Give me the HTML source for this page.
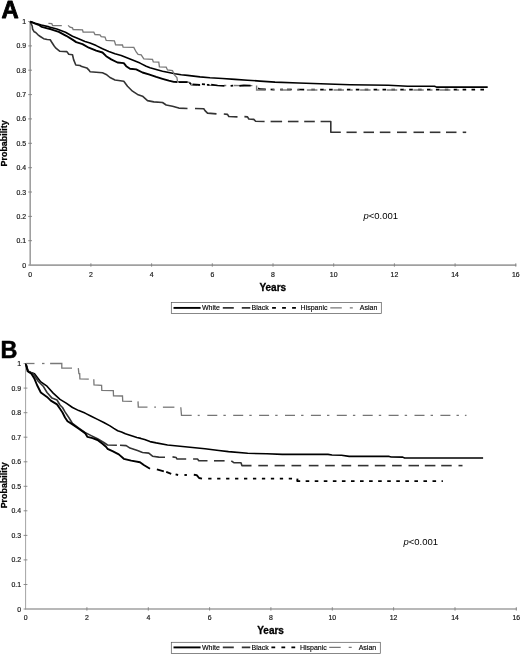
<!DOCTYPE html>
<html lang="en"><head><meta charset="utf-8"><title>Survival probability by race</title>
<style>html,body{margin:0;padding:0;background:#fff;}svg{display:block;}text{font-family:'Liberation Sans', sans-serif;fill:#000;}.tk{font-size:6.9px;fill:#111;stroke:#222;stroke-width:0.18;}.ax{stroke:#a0a0a0;stroke-width:1.6;fill:none;}.lb{font-weight:bold;font-size:10px;stroke:#000;stroke-width:0.3;}.pb{font-weight:bold;font-size:8.3px;stroke:#000;stroke-width:0.25;}.big{font-weight:bold;font-size:24px;stroke:#000;stroke-width:0.9;stroke-linejoin:round;}.pv{font-size:9.5px;}.lg{font-size:7px;stroke:#111;stroke-width:0.15;}.w{stroke:#000;stroke-width:1.6;fill:none;stroke-linejoin:round;}.h{stroke:#000;stroke-width:1.9;fill:none;stroke-linejoin:round;}.b{stroke:#333;stroke-width:1.6;fill:none;stroke-linejoin:round;}.a{stroke:#787878;stroke-width:1.3;fill:none;}</style></head><body>
<svg width="520" height="655" viewBox="0 0 520 655">
<rect width="520" height="655" fill="#fff"/>
<text class="big" style="font-size:23.8px;stroke-width:0.8" x="1.4" y="17.5">A</text>
<path class="ax" style="" d="M30.2,21.0V265.1"/>
<path class="ax" d="M29.6,265.1H516.3"/>
<path class="ax" style="stroke-width:0.9;stroke:#808080" d="M28.2,240.7h3.8M28.2,216.4h3.8M28.2,192.0h3.8M28.2,167.7h3.8M28.2,143.3h3.8M28.2,118.9h3.8M28.2,94.6h3.8M28.2,70.2h3.8M28.2,45.9h3.8M28.2,21.5h3.8M28.2,265.1h2M90.9,263.3v3.4M151.6,263.3v3.4M212.3,263.3v3.4M273.0,263.3v3.4M333.7,263.3v3.4M394.4,263.3v3.4M455.1,263.3v3.4M515.8,263.3v3.4"/>
<text class="tk" text-anchor="end" x="26.0" y="267.6">0</text>
<text class="tk" text-anchor="end" x="26.0" y="243.2">0.1</text>
<text class="tk" text-anchor="end" x="26.0" y="218.9">0.2</text>
<text class="tk" text-anchor="end" x="26.0" y="194.5">0.3</text>
<text class="tk" text-anchor="end" x="26.0" y="170.2">0.4</text>
<text class="tk" text-anchor="end" x="26.0" y="145.8">0.5</text>
<text class="tk" text-anchor="end" x="26.0" y="121.4">0.6</text>
<text class="tk" text-anchor="end" x="26.0" y="97.1">0.7</text>
<text class="tk" text-anchor="end" x="26.0" y="72.7">0.8</text>
<text class="tk" text-anchor="end" x="26.0" y="48.4">0.9</text>
<text class="tk" text-anchor="end" x="26.0" y="24.0">1</text>
<text class="tk" text-anchor="middle" x="30.2" y="277.2">0</text>
<text class="tk" text-anchor="middle" x="90.9" y="277.2">2</text>
<text class="tk" text-anchor="middle" x="151.6" y="277.2">4</text>
<text class="tk" text-anchor="middle" x="212.3" y="277.2">6</text>
<text class="tk" text-anchor="middle" x="273.0" y="277.2">8</text>
<text class="tk" text-anchor="middle" x="333.7" y="277.2">10</text>
<text class="tk" text-anchor="middle" x="394.4" y="277.2">12</text>
<text class="tk" text-anchor="middle" x="455.1" y="277.2">14</text>
<text class="tk" text-anchor="middle" x="515.8" y="277.2">16</text>
<text class="pb" text-anchor="middle" transform="translate(7.3,143.4) rotate(-90) scale(1.075,1)">Probability</text>
<polyline class="w" points="30.2,21.6 35.2,23.3 41.4,25.0 49.1,26.9 56.8,29.0 65.5,32.3 72.5,36.2 78.0,38.6 85.0,41.5 90.0,43.1 96.2,45.6 102.5,48.8 108.8,51.5 115.0,53.8 121.2,55.6 127.5,58.1 133.8,60.6 140.0,63.1 146.2,66.2 150.0,67.7 156.2,69.5 162.5,71.2 168.8,72.5 175.0,73.8 181.2,74.8 187.5,75.4 200.0,76.9 210.0,77.8 222.5,78.5 235.0,79.4 247.5,80.2 260.0,81.1 275.0,82.1 298.5,83.0 350.0,84.7 388.5,85.3 407.7,86.2 434.6,86.2 436.5,87.1 487.7,87.1"/>
<polyline class="b" points="30.2,21.8 32.2,26.0 32.6,29.1 34.2,31.8 35.7,32.5 38.0,34.8 40.3,36.5 43.6,38.7 47.2,39.5 50.2,39.8 51.9,42.5 54.2,46.0 55.6,47.9 59.9,51.3 66.9,51.6 68.8,54.3 72.5,54.8 73.6,59.6 75.8,65.0 80.0,65.5 81.8,66.6 86.8,67.9 89.2,70.4 90.0,71.7 96.2,72.2 102.5,72.8 106.2,74.4 110.0,77.5 115.0,80.0 123.8,81.2 127.5,86.2 132.5,91.2 137.5,94.4 142.5,96.2 147.5,100.6 153.8,101.9 162.5,102.5 166.2,105.0 172.5,106.2 178.8,108.1 187.5,108.5"/>
<polyline class="b" points="195.0,108.5 203.8,108.8 205.0,110.6 207.5,113.1 216.5,113.9"/>
<polyline class="b" points="223.8,114.0 227.5,114.4 228.8,116.5 237.5,116.9"/>
<polyline class="b" points="244.4,116.6 247.5,116.9 248.8,119.0 253.8,119.4 255.6,121.3 264.6,121.5"/>
<polyline class="b" points="270.6,121.5 282.1,121.5"/>
<polyline class="b" points="287.9,121.5 298.5,121.5"/>
<polyline class="b" points="304.2,121.5 314.8,121.5"/>
<polyline class="b" points="320.6,121.5 330.8,121.5 330.8,132.3 340.8,132.3"/>
<polyline class="b" points="346.5,132.3 356.7,132.3"/>
<polyline class="b" points="363.5,132.3 374.0,132.3"/>
<polyline class="b" points="379.8,132.3 390.4,132.3"/>
<polyline class="b" points="397.0,132.3 406.7,132.3"/>
<polyline class="b" points="413.5,132.3 424.0,132.3"/>
<polyline class="b" points="429.8,132.3 440.4,132.3"/>
<polyline class="b" points="446.0,132.3 456.5,132.3"/>
<polyline class="b" points="462.7,132.3 466.2,132.3"/>
<polyline class="h" points="30.2,21.6 35.2,23.6 38.5,24.8 41.8,26.9 47.2,28.4 51.1,29.3 58.8,31.8 66.2,35.8 72.5,39.6 76.2,42.1 82.5,44.1 88.8,47.7 90.0,48.1 96.2,50.6 102.5,52.5 106.2,56.2 111.2,59.4 117.5,62.5 123.8,63.1 126.2,66.2 130.0,68.8 136.2,69.4 142.5,72.5 148.8,74.4 156.2,76.9 162.5,78.8 168.8,80.6 173.8,81.9 177.5,82.0"/>
<polyline class="a" points="48.4,23.3 51.8,23.7 52.6,25.6 61.8,25.6"/>
<polyline class="a" points="68.1,25.4 70.0,27.2 72.5,27.9 73.1,29.5 82.5,29.8 83.1,32.0 93.8,32.2 95.0,34.5 100.0,34.8 101.2,36.6 105.0,37.0 106.2,40.4 114.4,40.8 115.6,44.8 122.5,45.0 123.1,47.1 133.8,47.4 136.2,52.0 138.1,54.5 141.2,54.9 143.8,58.9 152.5,59.3 153.3,61.9 158.8,62.2 159.4,66.9 166.2,67.2 167.5,70.0 172.5,70.6 174.4,75.0 176.9,77.5 177.5,81.4 187.5,82.0 190.0,82.6 191.2,85.0 197.5,85.4"/>
<path class="a" stroke-dasharray="10 6.3 2.4 7.4" stroke-dashoffset="16" d="M197.5,85.4L256.3,85.6"/>
<polyline class="h" style="stroke-width:1.7" points="178.5,82.1 187.5,82.2"/>
<polyline class="h" style="stroke-width:1.7" points="189.4,83.1 191.2,84.0"/>
<polyline class="h" style="stroke-width:1.7" points="192.5,84.4 200.0,84.8"/>
<polyline class="h" style="stroke-width:1.7" points="201.9,84.2 205.0,84.4"/>
<polyline class="h" style="stroke-width:1.7" points="206.9,84.8 209.4,84.8"/>
<polyline class="h" style="stroke-width:1.7" points="211.2,84.6 217.5,85.5 224.4,85.9"/>
<polyline class="h" style="stroke-width:1.7" points="230.6,85.9 233.1,85.6"/>
<polyline class="h" style="stroke-width:1.7" points="239.4,85.9 243.8,85.4 250.6,85.6"/>
<polyline class="h" style="stroke-width:1.7" points="258.1,88.3 260.0,89.2 265.8,89.4"/>
<polyline class="h" style="stroke-width:1.7" points="270.6,89.5 274.4,89.5"/>
<polyline class="h" style="stroke-width:1.7" points="280.2,89.5 283.0,89.5"/>
<polyline class="h" style="stroke-width:1.7" points="287.0,89.5 291.7,89.5"/>
<polyline class="h" style="stroke-width:1.7" points="297.5,89.5 304.2,89.6"/>
<polyline class="h" style="stroke-width:1.7" points="311.3,89.6 314.9,89.6"/>
<path class="h" style="stroke-width:1.7" stroke-dasharray="3.6 5.3" d="M320.2,89.6H484.4"/>
<path class="a" style="stroke-width:1.4;stroke:#7d7d7d" d="M256.6,85.6V90H265.6M272.4,90h2.2"/>
<path class="a" style="stroke-width:1.4;stroke:#7d7d7d" stroke-dasharray="10.5 6.3 2.4 7.4" d="M280.3,90H466"/>
<text class="pv" x="363.4" y="218.9"><tspan font-style="italic">p</tspan>&lt;0.001</text>
<text class="lb" text-anchor="middle" x="272.8" y="290.5">Years</text>
<rect x="171.3" y="302.5" width="210.0" height="10.9" fill="#fff" stroke="#555" stroke-width="0.7"/>
<path class="w" style="stroke-width:1.9" d="M173.5,307.9H200.6"/>
<text class="lg" x="202.0" y="310.4">White</text>
<path class="b" d="M222.8,307.9h11M241.8,307.9h8.5"/>
<text class="lg" x="251.6" y="310.4">Black</text>
<path class="h" d="M272.1,307.9h3.8M282.1,307.9h3.8M292.1,307.9h3.8"/>
<text class="lg" x="300.6" y="310.4">Hispanic</text>
<path class="a" d="M330.3,307.9h11.5M349.8,307.9h3"/>
<text class="lg" x="359.8" y="310.4">Asian</text>
<text class="big" style="font-size:23.4px;stroke-width:0.5" x="0.5" y="358.4">B</text>
<path class="ax" style="stroke-width:0.8;stroke:#8c8c8c" d="M25.6,363.1V609.0"/>
<path class="ax" d="M25.0,609.0H516.8"/>
<path class="ax" style="stroke-width:0.9;stroke:#808080" d="M23.6,584.5h3.8M23.6,559.9h3.8M23.6,535.4h3.8M23.6,510.8h3.8M23.6,486.3h3.8M23.6,461.8h3.8M23.6,437.2h3.8M23.6,412.7h3.8M23.6,388.1h3.8M23.6,363.6h3.8M23.6,609.0h2M86.9,607.2v3.4M148.3,607.2v3.4M209.6,607.2v3.4M270.9,607.2v3.4M332.3,607.2v3.4M393.6,607.2v3.4M455.0,607.2v3.4M516.3,607.2v3.4"/>
<text class="tk" text-anchor="end" x="21.0" y="611.5">0</text>
<text class="tk" text-anchor="end" x="21.0" y="587.0">0.1</text>
<text class="tk" text-anchor="end" x="21.0" y="562.4">0.2</text>
<text class="tk" text-anchor="end" x="21.0" y="537.9">0.3</text>
<text class="tk" text-anchor="end" x="21.0" y="513.3">0.4</text>
<text class="tk" text-anchor="end" x="21.0" y="488.8">0.5</text>
<text class="tk" text-anchor="end" x="21.0" y="464.3">0.6</text>
<text class="tk" text-anchor="end" x="21.0" y="439.7">0.7</text>
<text class="tk" text-anchor="end" x="21.0" y="415.2">0.8</text>
<text class="tk" text-anchor="end" x="21.0" y="390.6">0.9</text>
<text class="tk" text-anchor="end" x="21.0" y="366.1">1</text>
<text class="tk" text-anchor="middle" x="25.6" y="620.1">0</text>
<text class="tk" text-anchor="middle" x="86.9" y="620.1">2</text>
<text class="tk" text-anchor="middle" x="148.3" y="620.1">4</text>
<text class="tk" text-anchor="middle" x="209.6" y="620.1">6</text>
<text class="tk" text-anchor="middle" x="270.9" y="620.1">8</text>
<text class="tk" text-anchor="middle" x="332.3" y="620.1">10</text>
<text class="tk" text-anchor="middle" x="393.6" y="620.1">12</text>
<text class="tk" text-anchor="middle" x="455.0" y="620.1">14</text>
<text class="tk" text-anchor="middle" x="516.3" y="620.1">16</text>
<text class="pb" text-anchor="middle" transform="translate(7.3,485.3) rotate(-90) scale(1.075,1)">Probability</text>
<polyline class="w" points="25.8,363.6 27.0,368.0 28.2,371.2 31.0,372.5 34.5,373.8 40.8,381.9 47.0,386.2 53.2,393.1 60.0,399.4 66.2,403.1 72.5,407.5 78.8,410.6 85.0,413.1 91.2,416.2 97.5,419.4 103.8,422.5 110.0,425.9 113.8,428.4 117.7,430.7 121.5,431.9 125.4,433.7 129.2,435.0 133.1,436.3 136.9,437.5 140.8,438.4 144.6,439.6 150.0,441.6 156.2,442.9 167.5,445.0 180.0,446.2 192.5,447.5 205.0,448.8 218.8,450.5 228.5,451.6 247.7,453.3 266.9,453.8 282.3,454.4 328.0,454.4 332.0,455.0 341.5,455.2 349.2,456.4 389.2,456.4 391.2,457.0 402.7,457.1 404.6,458.0 483.1,458.0"/>
<polyline class="b" points="25.8,363.6 28.2,371.2 33.2,373.8 38.2,381.2 43.2,386.2 47.0,392.5 52.0,398.1 57.0,400.0 60.0,405.0 62.5,407.5 65.0,411.9 68.8,417.5 72.5,423.5 78.8,428.1 85.0,432.5 91.2,435.6 97.5,438.8 103.8,442.5 107.5,445.0 116.9,445.2"/>
<polyline class="b" points="120.0,445.3 126.2,445.6 130.0,448.1 137.5,450.6 142.5,452.5 148.8,453.1 152.5,456.2 158.8,457.1 165.0,457.2"/>
<polyline class="b" points="172.5,456.9 176.2,457.5 176.9,459.0 186.2,459.0"/>
<polyline class="b" points="193.1,459.0 197.5,459.0 198.8,460.7 207.5,460.7"/>
<polyline class="b" points="214.0,460.8 224.6,460.8"/>
<polyline class="b" points="231.3,460.8 233.8,462.7 241.0,462.7 241.9,465.6 251.5,465.6"/>
<polyline class="b" points="258.3,465.6 267.9,465.6"/>
<polyline class="b" points="274.6,465.6 284.8,465.6"/>
<polyline class="b" points="291.5,465.6 301.2,465.6"/>
<polyline class="b" points="308.8,465.6 318.5,465.6"/>
<polyline class="b" points="325.2,465.6 334.8,465.6"/>
<polyline class="b" points="341.5,465.6 351.2,465.6"/>
<polyline class="b" points="357.9,465.6 368.5,465.6"/>
<polyline class="b" points="374.8,465.6 385.4,465.6"/>
<polyline class="b" points="392.1,465.6 401.7,465.6"/>
<polyline class="b" points="408.5,465.6 419.0,465.6"/>
<polyline class="b" points="424.8,465.6 435.4,465.6"/>
<polyline class="b" points="441.2,465.6 451.7,465.6"/>
<polyline class="b" points="458.5,465.6 462.5,465.6"/>
<polyline class="h" points="25.8,363.6 27.6,371.2 31.4,373.8 34.5,378.8 37.0,385.0 40.8,392.5 47.0,396.9 50.8,400.6 57.0,404.4 60.0,408.8 62.5,412.5 65.0,417.5 67.5,421.2 72.5,424.4 78.8,428.8 85.0,433.1 87.5,436.9 92.5,438.1 97.5,440.0 102.5,443.8 106.2,447.0 107.5,448.8 112.5,451.2 118.8,454.4 123.8,458.8 131.2,460.6 140.0,462.2 143.8,465.0 150.0,468.8"/>
<polyline class="h" points="156.9,469.3 163.8,471.3"/>
<polyline class="h" points="166.2,471.9 171.2,473.8"/>
<polyline class="h" points="175.6,474.4 178.1,475.0"/>
<polyline class="h" points="184.4,475.0 186.9,475.0"/>
<polyline class="h" points="193.8,474.7 196.7,475.1 199.1,478.0 202.0,478.6"/>
<path class="h" stroke-dasharray="3.3 5.65" d="M208.2,478.6H296"/>
<path class="h" stroke-dasharray="3.6 5.46" d="M296.6,481.1H442.9"/><path class="h" d="M297.4,478.6V481.1"/>
<polyline class="a" points="25.8,363.5 34.5,363.5"/>
<polyline class="a" points="42.0,363.5 44.5,363.5"/>
<polyline class="a" points="50.1,363.5 61.8,363.5 61.8,368.1 72.0,368.1"/>
<polyline class="a" points="78.3,368.1 78.9,373.6 79.7,373.7 79.9,378.9 88.8,379.2"/>
<polyline class="a" points="93.8,379.2 94.0,385.0 101.6,385.4 101.8,390.3 113.3,390.6 113.5,395.8 122.5,396.0 122.7,401.1 132.1,401.4"/>
<polyline class="a" points="138.0,401.4 138.3,407.0 147.5,407.2"/>
<polyline class="a" points="154.2,407.2 156.0,407.2"/>
<polyline class="a" points="162.9,407.2 174.4,407.2"/>
<polyline class="a" points="180.8,407.3 181.5,415.3 191.7,415.4"/>
<polyline class="a" points="197.7,415.4 199.7,415.4"/>
<path class="a" style="stroke-width:1.25;stroke:#757575" stroke-dasharray="10 6.1 2.4 7.4" d="M207.3,415.4H466.2"/><path class="a" d="M464.9,415.4h1.6"/>
<text class="pv" x="403.4" y="545.2"><tspan font-style="italic">p</tspan>&lt;0.001</text>
<text class="lb" text-anchor="middle" x="270.6" y="634.1">Years</text>
<rect x="171.3" y="642.3" width="209.0" height="11.3" fill="#fff" stroke="#555" stroke-width="0.7"/>
<path class="w" style="stroke-width:1.9" d="M173.5,647.4H200.6"/>
<text class="lg" x="202.0" y="650.0">White</text>
<path class="b" d="M222.8,647.4h11M241.8,647.4h8.5"/>
<text class="lg" x="251.6" y="650.0">Black</text>
<path class="h" d="M271.4,647.4h3.8M281.4,647.4h3.8M291.4,647.4h3.8"/>
<text class="lg" x="299.9" y="650.0">Hispanic</text>
<path class="a" d="M329.2,647.4h11.5M348.7,647.4h3"/>
<text class="lg" x="358.7" y="650.0">Asian</text>
</svg></body></html>
